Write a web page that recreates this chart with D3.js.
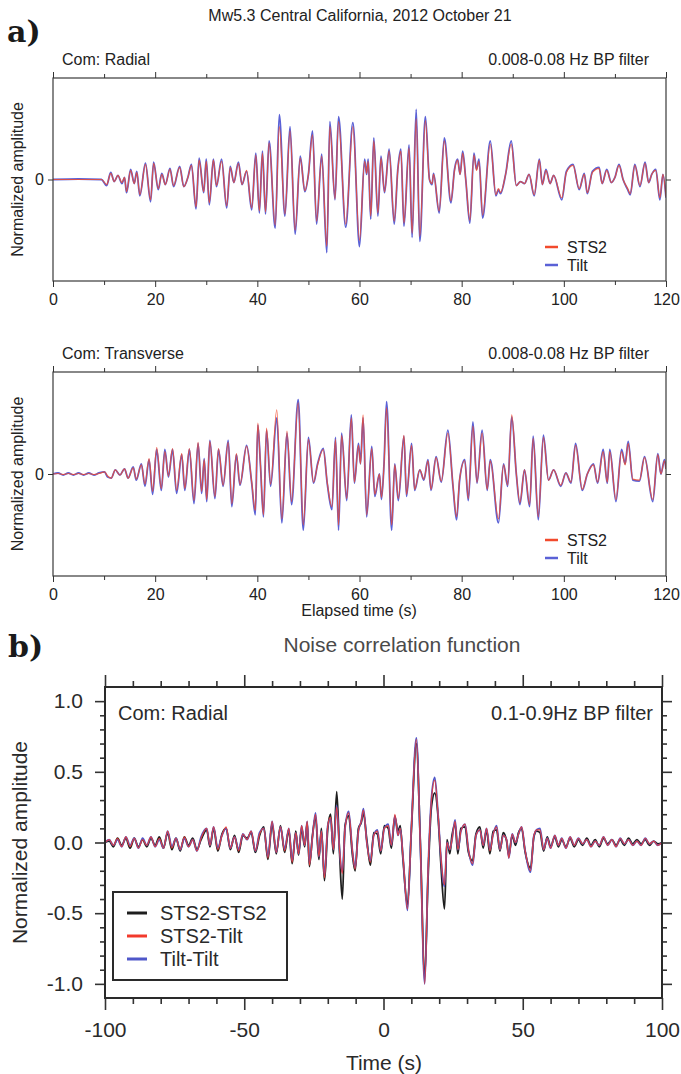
<!DOCTYPE html>
<html><head><meta charset="utf-8">
<script src="https://cdn.jsdelivr.net/npm/d3@7"></script>
<style>body{margin:0;background:#fff}svg{display:block}</style>
</head><body>
<script>
// ---------------- DATA ----------------
const titleA = "Mw5.3 Central California, 2012 October 21";
const filterA = "0.008-0.08 Hz BP filter";
const seisXMajor = [0, 20, 40, 60, 80, 100, 120];
const seisXMinor = [10, 30, 50, 70, 90, 110];
const seisYTicks = [0];
const seisSeries = ["STS2", "Tilt"];

// Radial component (elapsed time s, normalized amplitude)
const radialTime = [
  0, 5, 9.5, 10.5, 11.3, 12, 12.7, 13.5, 14, 14.4,
  15.2, 15.9, 16.4, 17, 18.1, 19.1, 19.7, 20.6, 21.3, 22,
  22.9, 23.6, 24.8, 25.6, 26.4, 27.1, 28, 28.6, 29.5, 30,
  30.6, 31.4, 32, 33, 34, 34.7, 35.4, 36.3, 37, 37.9,
  38.9, 39.7, 40.4, 41, 41.6, 42.3, 43.5, 44.3, 45.4, 46.4,
  47.4, 48.4, 49.3, 50, 50.8, 51.6, 52.6, 53.6, 54.2, 55.2,
  55.9, 57.3, 58.7, 60, 61, 61.4, 61.7, 62.2, 62.8, 63.6,
  64.2, 64.9, 65.8, 66.8, 67.5, 68.1, 68.7, 69.7, 70.3, 71.1,
  71.8, 72.9, 73.7, 74.2, 74.5, 75.6, 76.6, 77.9, 78.6, 79.2,
  79.7, 80.2, 80.8, 81.6, 82.4, 82.9, 83.4, 84.1, 85.6, 86.7,
  87.2, 87.6, 88.6, 89.7, 90.7, 91.5, 92.3, 93.2, 94.2, 95.2,
  95.8, 96.5, 97.3, 98, 99.6, 100.5, 101.8, 103, 104, 104.6,
  105.6, 106.9, 107.5, 108.4, 109.3, 110, 110.8, 111.6, 112.5, 113,
  113.9, 114.9, 115.9, 116.6, 117.2, 118, 118.8, 119.4, 120
];
const radialTilt = [
  0, 0.005, 0, -0.06, 0.07, -0.02, 0.04, -0.04, 0.02, -0.13,
  0.10, -0.04, 0.08, -0.16, 0.16, -0.22, 0.17, -0.10, 0.06, -0.05,
  0.11, -0.07, 0.13, -0.07, 0.02, 0.15, -0.29, 0.21, -0.13, 0.20,
  -0.25, 0.20, -0.07, 0.20, -0.28, 0.13, -0.03, 0.17, -0.05, 0.08,
  -0.30, 0.26, -0.33, 0.28, -0.34, 0.38, -0.48, 0.64, -0.36, 0.52,
  -0.54, 0.23, -0.12, 0.05, 0.48, -0.44, 0.25, -0.72, 0.57, -0.20,
  0.62, -0.47, 0.56, -0.66, 0.20, 0.05, 0.20, -0.39, 0.41, -0.36,
  0.23, -0.13, 0.30, -0.44, 0.10, 0.30, -0.46, 0.34, -0.57, 0.69,
  -0.61, 0.62, 0.00, -0.05, 0.06, -0.33, 0.41, -0.23, 0.10, 0.20,
  0.05, 0.28, 0.00, -0.43, 0.26, 0.10, 0.20, -0.38, 0.38, -0.16,
  -0.10, -0.14, 0.05, 0.38, -0.06, -0.02, -0.04, 0.05, -0.16, 0.20,
  -0.05, 0.10, -0.04, 0.04, -0.20, 0.08, 0.15, -0.10, 0.06, -0.14,
  0.08, 0.12, -0.04, 0.10, -0.03, 0.02, 0.15, 0.00, -0.10, -0.15,
  0.15, -0.07, 0.17, -0.03, 0.05, 0.10, -0.20, 0.05, -0.18
];
const radialSTS2 = [
  0, 0, 0, -0.05, 0.06, -0.02, 0.04, -0.03, 0.02, -0.12,
  0.09, -0.04, 0.07, -0.15, 0.15, -0.20, 0.16, -0.09, 0.05, -0.05,
  0.10, -0.06, 0.12, -0.07, 0.02, 0.14, -0.27, 0.19, -0.12, 0.18,
  -0.23, 0.19, -0.06, 0.18, -0.26, 0.12, -0.03, 0.16, -0.05, 0.09,
  -0.28, 0.24, -0.31, 0.26, -0.32, 0.36, -0.45, 0.52, -0.34, 0.48,
  -0.50, 0.21, -0.11, 0.05, 0.44, -0.41, 0.23, -0.66, 0.52, -0.19,
  0.57, -0.44, 0.52, -0.60, 0.18, 0.06, 0.18, -0.36, 0.38, -0.33,
  0.21, -0.12, 0.28, -0.41, 0.09, 0.28, -0.43, 0.31, -0.53, 0.60,
  -0.56, 0.58, 0.00, -0.04, 0.05, -0.31, 0.38, -0.21, 0.09, 0.19,
  0.05, 0.26, 0.00, -0.40, 0.24, 0.09, 0.18, -0.35, 0.35, -0.15,
  -0.09, -0.13, 0.05, 0.35, -0.06, -0.02, -0.04, 0.05, -0.15, 0.19,
  -0.05, 0.09, -0.04, 0.04, -0.18, 0.07, 0.14, -0.09, 0.05, -0.13,
  0.07, 0.11, -0.04, 0.09, -0.03, 0.02, 0.14, 0.00, -0.09, -0.14,
  0.14, -0.06, 0.16, -0.03, 0.05, 0.09, -0.18, 0.05, -0.17
];

// Transverse component
const transTime = [
  0, 1, 2, 3, 4, 5, 6, 7, 8, 9,
  10.1, 10.7, 11.4, 12.2, 13.1, 14, 14.7, 15.7, 16.3, 17.3,
  18, 18.8, 19.5, 20.3, 21.2, 21.9, 22.6, 23.4, 24.2, 25.2,
  25.8, 26.7, 27.6, 28.4, 29.1, 29.6, 30.1, 30.7, 31.7, 32.4,
  33.3, 34.3, 35, 35.9, 36.6, 37.9, 38.9, 39.6, 40.1, 40.6,
  41.2, 41.8, 42.6, 43.8, 44.8, 45.8, 46.7, 48, 49, 50,
  51, 51.8, 52.9, 53.7, 54.6, 55.3, 55.9, 56.5, 57.5, 58.4,
  59, 59.8, 60.2, 60.7, 61.4, 62.4, 63, 63.9, 64.3, 64.8,
  65.3, 66.3, 66.9, 67.6, 68.7, 69.2, 70.2, 70.8, 71.8, 72.6,
  73.4, 74, 75, 76, 77.3, 78.3, 79, 79.6, 80.6, 81.3,
  82.2, 83, 84, 85, 85.6, 87.2, 88.2, 89, 89.8, 90.7,
  91.4, 92.3, 93.3, 94, 95, 96, 97, 98, 99.4, 100.4,
  101.4, 102.3, 103.6, 104.6, 105.8, 106.6, 107.7, 108.5, 109, 110.2,
  111.3, 112, 112.6, 113.5, 114.8, 115.8, 117.4, 118.4, 119, 119.7, 120
];
const transTilt = [
  0, 0.01, -0.01, 0.01, -0.01, 0.01, -0.01, 0.01, -0.01, 0.01,
  0.02, -0.03, -0.04, 0.04, -0.01, 0.05, -0.04, 0.07, -0.06, 0.10,
  -0.12, 0.14, -0.20, 0.24, -0.16, 0.24, -0.03, 0.24, -0.19, 0.19,
  -0.16, 0.24, -0.29, 0.30, -0.19, 0.15, -0.27, 0.33, -0.24, 0.24,
  -0.12, 0.33, -0.32, 0.19, -0.11, 0.28, -0.09, -0.40, 0.48, 0.10,
  -0.42, 0.43, -0.12, 0.55, -0.48, 0.40, -0.30, 0.73, -0.55, 0.36,
  -0.09, 0.10, 0.25, -0.10, -0.35, 0.36, -0.55, 0.40, -0.26, 0.58,
  -0.09, 0.30, 0.10, 0.55, -0.42, 0.27, -0.22, 0.00, -0.25, 0.10,
  0.71, -0.55, 0.10, -0.26, 0.37, -0.22, 0.30, -0.16, 0.04, -0.06,
  0.14, -0.16, 0.17, -0.08, 0.43, -0.12, -0.45, -0.06, 0.14, -0.26,
  0.51, -0.09, 0.43, -0.16, 0.14, -0.48, 0.10, -0.12, 0.56, 0.00,
  -0.30, 0.04, -0.32, 0.37, -0.45, 0.38, -0.06, 0.04, -0.12, 0.01,
  -0.09, 0.30, -0.16, 0.00, 0.10, -0.09, 0.24, -0.09, 0.24, -0.27,
  0.24, 0.10, 0.32, -0.06, -0.07, 0.17, -0.27, 0.20, 0.00, 0.14, 0.05
];
const transSTS2 = [
  0, 0.005, -0.005, 0.005, -0.005, 0.005, -0.005, 0.005, -0.005, 0.005,
  0.02, -0.02, -0.04, 0.04, -0.01, 0.05, -0.04, 0.06, -0.05, 0.09,
  -0.10, 0.15, -0.17, 0.26, -0.14, 0.22, -0.02, 0.25, -0.16, 0.20,
  -0.14, 0.25, -0.26, 0.31, -0.17, 0.14, -0.25, 0.32, -0.22, 0.25,
  -0.11, 0.31, -0.29, 0.20, -0.10, 0.27, -0.08, -0.36, 0.50, 0.10,
  -0.40, 0.45, -0.10, 0.63, -0.44, 0.42, -0.27, 0.70, -0.50, 0.34,
  -0.08, 0.09, 0.24, -0.09, -0.32, 0.34, -0.50, 0.38, -0.24, 0.55,
  -0.08, 0.28, 0.10, 0.58, -0.40, 0.25, -0.20, 0.00, -0.23, 0.09,
  0.65, -0.50, 0.09, -0.24, 0.38, -0.20, 0.28, -0.15, 0.04, -0.05,
  0.13, -0.15, 0.16, -0.07, 0.40, -0.11, -0.42, -0.05, 0.13, -0.24,
  0.47, -0.08, 0.40, -0.15, 0.13, -0.44, 0.09, -0.11, 0.58, 0.00,
  -0.28, 0.04, -0.30, 0.35, -0.42, 0.36, -0.06, 0.04, -0.11, 0.01,
  -0.08, 0.28, -0.15, 0.00, 0.09, -0.08, 0.22, -0.08, 0.22, -0.25,
  0.22, 0.09, 0.30, -0.05, -0.06, 0.16, -0.25, 0.19, 0.00, 0.13, 0.05
];

// Noise correlation function (lag time s)
const ncfTitle = "Noise correlation function";
const ncfFilter = "0.1-0.9Hz BP filter";
const ncfSeries = ["STS2-STS2", "STS2-Tilt", "Tilt-Tilt"];
const ncfXMajor = [-100, -50, 0, 50, 100];
const ncfXMinor = [-90, -80, -70, -60, -40, -30, -20, -10, 10, 20, 30, 40, 60, 70, 80, 90];
const ncfYMajor = [-1, -0.5, 0, 0.5, 1];
const ncfYMinor = [-0.9, -0.8, -0.7, -0.6, -0.4, -0.3, -0.2, -0.1, 0.1, 0.2, 0.3, 0.4, 0.6, 0.7, 0.8, 0.9];
const ncfTime = [
  -100, -98.5, -97, -95.5, -94, -92.5, -91, -89.5, -88, -86.5,
  -85, -83.5, -82, -80.5, -79, -77.5, -76, -74.5, -73, -71.5,
  -70, -68.5, -67, -65.5, -63.5, -62.3, -61, -59.5, -58, -56.5,
  -55, -53.5, -52, -50.5, -49, -47.5, -46, -44.5, -43, -41.5,
  -40, -38.5, -37, -35.5, -34, -32.8, -31.5, -30.5, -29.4, -28.3,
  -27.4, -26.6, -25.5, -24.4, -23.2, -22.3, -21.2, -20, -19, -18,
  -16.8, -15.8, -14.8, -13.8, -12.5, -11.2, -10.2, -9, -8, -7.2,
  -6, -4.7, -3.5, -2.2, -1, 0.3, 1.7, 2.8, 4.1, 5.2,
  6, 7, 8.6, 10, 11.8, 13.2, 14.8, 16, 17.2, 18.4,
  19.6, 20.6, 21.9, 22.8, 23.8, 24.6, 25.7, 26.7, 27.8, 29.3,
  30.5, 32, 33.2, 34.6, 35.8, 37, 38.2, 39.4, 40.6, 41.8,
  43, 44.2, 45, 46.2, 47.4, 48.5, 49.6, 50.8, 52.8, 54,
  55, 56.2, 57.5, 58.8, 60, 61.5, 62.8, 64, 65.5, 67,
  68.5, 70, 71.5, 73, 74.5, 76, 77.5, 79, 80.5, 82,
  83.5, 85, 86.5, 88, 89.5, 91, 92.5, 94, 95.5, 97,
  98.5, 100
];
const ncfStsSts = [
  0, 0.01, -0.03, 0.03, -0.02, 0.03, -0.04, 0.03, -0.03, 0.02,
  -0.03, 0.03, -0.02, 0.04, -0.04, 0.07, -0.05, 0.03, -0.06, 0.04,
  -0.02, 0.03, -0.05, 0.02, 0.09, -0.03, 0.10, -0.06, 0.06, 0.10,
  -0.05, 0.05, -0.07, 0.05, 0.03, 0.07, -0.07, 0.05, 0.11, -0.12,
  0.13, -0.08, 0.12, -0.07, 0.09, -0.15, 0.08, -0.09, 0.10, -0.03,
  0.14, -0.17, 0.05, 0.18, -0.12, 0.10, -0.27, 0.10, 0.20, -0.08,
  0.36, -0.06, -0.40, 0.12, 0.19, -0.08, -0.20, 0.10, 0.14, 0.21,
  0.02, -0.16, 0.07, 0.06, -0.08, 0.12, 0.10, -0.04, 0.18, 0.08,
  0.12, -0.12, -0.44, 0.08, 0.70, 0.02, -0.95, -0.25, 0.25, 0.35,
  0.18, -0.15, -0.47, 0.02, -0.08, 0.05, 0.13, -0.08, 0.10, 0.11,
  -0.07, -0.13, 0.06, 0.11, -0.04, 0.09, -0.08, 0.08, 0.09, -0.06,
  0.07, 0.01, -0.09, 0.05, -0.02, 0.07, 0.10, -0.06, -0.18, 0.04,
  0.08, 0.07, -0.06, 0.04, -0.03, 0.04, -0.03, 0.02, -0.03, 0.03,
  -0.03, 0.02, -0.02, 0.03, -0.02, 0.02, -0.03, 0.03, -0.01, 0.02,
  -0.02, 0.02, -0.02, 0.03, -0.01, 0.02, -0.01, 0.02, -0.02, 0.01,
  -0.01, 0
];
const ncfStsTilt = [
  0, 0.02, -0.02, 0.03, -0.03, 0.04, -0.03, 0.03, -0.04, 0.02,
  -0.02, 0.04, -0.03, 0.03, -0.04, 0.08, -0.04, 0.03, -0.05, 0.04,
  -0.03, 0.02, -0.06, 0.03, 0.10, -0.02, 0.11, -0.05, 0.05, 0.11,
  -0.04, 0.04, -0.06, 0.06, 0.02, 0.08, -0.06, 0.06, 0.10, -0.11,
  0.15, -0.07, 0.11, -0.06, 0.10, -0.14, 0.07, -0.08, 0.12, -0.02,
  0.15, -0.16, 0.04, 0.20, -0.10, 0.08, -0.25, 0.12, 0.18, -0.05,
  0.25, -0.05, -0.22, 0.10, 0.21, -0.05, -0.19, 0.08, 0.15, 0.23,
  0.00, -0.14, 0.05, 0.08, -0.06, 0.10, 0.12, -0.02, 0.20, 0.05,
  0.10, -0.10, -0.47, 0.10, 0.73, 0.00, -1.00, -0.20, 0.30, 0.44,
  0.20, -0.10, -0.30, 0.00, -0.05, 0.02, 0.15, -0.05, 0.08, 0.13,
  -0.05, -0.15, 0.05, 0.09, -0.02, 0.10, -0.06, 0.06, 0.11, -0.05,
  0.05, 0.02, -0.11, 0.06, 0.00, 0.06, 0.11, -0.05, -0.20, 0.05,
  0.09, 0.09, -0.05, 0.03, -0.04, 0.05, -0.02, 0.03, -0.04, 0.04,
  -0.02, 0.03, -0.01, 0.02, -0.03, 0.01, -0.02, 0.04, -0.02, 0.02,
  -0.03, 0.03, -0.01, 0.02, -0.02, 0.01, -0.02, 0.03, -0.01, 0.01,
  -0.02, 0
];
const ncfTiltTilt = [
  0, 0.02, -0.02, 0.02, -0.03, 0.04, -0.02, 0.03, -0.04, 0.03,
  -0.02, 0.04, -0.03, 0.02, -0.04, 0.08, -0.03, 0.03, -0.05, 0.03,
  -0.03, 0.02, -0.06, 0.04, 0.10, -0.02, 0.11, -0.04, 0.05, 0.10,
  -0.04, 0.04, -0.05, 0.06, 0.02, 0.08, -0.06, 0.07, 0.10, -0.10,
  0.15, -0.07, 0.11, -0.05, 0.10, -0.13, 0.07, -0.08, 0.12, -0.02,
  0.15, -0.15, 0.04, 0.21, -0.10, 0.08, -0.24, 0.12, 0.17, -0.05,
  0.26, -0.05, -0.21, 0.10, 0.22, -0.05, -0.18, 0.08, 0.15, 0.24,
  0.00, -0.13, 0.05, 0.09, -0.06, 0.10, 0.13, -0.02, 0.19, 0.05,
  0.10, -0.10, -0.48, 0.10, 0.74, 0.00, -1.00, -0.20, 0.31, 0.46,
  0.20, -0.10, -0.31, 0.00, -0.05, 0.02, 0.16, -0.05, 0.08, 0.13,
  -0.05, -0.16, 0.05, 0.09, -0.02, 0.10, -0.05, 0.06, 0.12, -0.05,
  0.05, 0.02, -0.11, 0.06, 0.00, 0.06, 0.11, -0.05, -0.21, 0.05,
  0.09, 0.10, -0.05, 0.03, -0.04, 0.05, -0.02, 0.03, -0.04, 0.04,
  -0.02, 0.03, -0.01, 0.02, -0.03, 0.01, -0.02, 0.04, -0.02, 0.02,
  -0.03, 0.03, -0.01, 0.02, -0.02, 0.01, -0.02, 0.03, -0.01, 0.01,
  -0.02, 0
];

// ---------------- DRAW ----------------
const FONT = '"Liberation Sans", Arial, Helvetica, sans-serif';
const RED_A = "#f24a2c", BLUE_A = "#5a61d6";
const RED_B = "#f23a2c", BLUE_B = "#4f57c9", BLACK_B = "#1e1e1e";

const svg = d3.select("body").append("svg").attr("width", 681).attr("height", 1074);
svg.append("rect").attr("width", 681).attr("height", 1074).attr("fill", "#fff");

function styleAxis(g, fs, col, sw) {
  g.select(".domain").remove();
  g.selectAll("line").attr("stroke", "#333").attr("stroke-width", sw || 1);
  g.selectAll("text").attr("font-family", FONT).attr("font-size", fs).attr("fill", col || "#222");
}
function label(txt, x, y, fs, anchor, col, extra) {
  const t = svg.append("text").attr("x", x).attr("y", y).text(txt)
    .attr("font-family", FONT).attr("font-size", fs).attr("fill", col || "#222")
    .attr("text-anchor", anchor || "start");
  if (extra) extra(t);
  return t;
}

// panel letters and title
svg.append("text").attr("x", 7).attr("y", 42).text("a)")
  .attr("font-family", '"DejaVu Serif", serif').attr("font-weight", "bold").attr("font-size", 30).attr("fill", "#1a1a1a");
svg.append("text").attr("x", 8).attr("y", 657).text("b)")
  .attr("font-family", '"DejaVu Serif", serif').attr("font-weight", "bold").attr("font-size", 30).attr("fill", "#1a1a1a");
label(titleA, 360, 21, 16, "middle", "#222");

function seismo(o) {
  const L = 53, R = 666;
  const x = d3.scaleLinear().domain([0, 120]).range([L, R]);
  const y = d3.scaleLinear().domain([-1, 1]).range([o.bottom, o.top]);
  const g = svg.append("g");
  const cid = "clip-" + o.key;
  svg.append("clipPath").attr("id", cid).append("rect")
    .attr("x", L).attr("y", o.top).attr("width", R - L).attr("height", o.bottom - o.top);
  const mk = vals => d3.line().x((d, i) => x(o.time[i])).y(d => y(d)).curve(d3.curveMonotoneX)(vals);
  const pg = g.append("g").attr("clip-path", `url(#${cid})`);
  pg.append("path").attr("d", mk(o.tilt)).attr("fill", "none").attr("stroke", BLUE_A).attr("stroke-width", 1.8).attr("stroke-linejoin", "round");
  pg.append("path").attr("d", mk(o.sts2)).attr("fill", "none").attr("stroke", RED_A).attr("stroke-width", 1.2).attr("stroke-opacity", 0.8).attr("stroke-linejoin", "round");

  g.append("rect").attr("x", L).attr("y", o.top).attr("width", R - L).attr("height", o.bottom - o.top)
    .attr("fill", "none").attr("stroke", "#3a3a3a").attr("stroke-width", 1.2);

  g.append("g").attr("transform", `translate(0,${o.bottom})`)
    .call(d3.axisBottom(x).tickValues(seisXMajor).tickSize(6).tickPadding(7).tickFormat(d3.format("d")))
    .call(a => styleAxis(a, 16));
  g.append("g").attr("transform", `translate(0,${o.bottom})`)
    .call(d3.axisBottom(x).tickValues(seisXMinor).tickSize(4).tickFormat(""))
    .call(a => styleAxis(a, 16));
  g.append("g").attr("transform", `translate(0,${o.top})`)
    .call(d3.axisTop(x).tickValues(seisXMajor).tickSize(6).tickFormat(""))
    .call(a => styleAxis(a, 16));
  g.append("g").attr("transform", `translate(0,${o.top})`)
    .call(d3.axisTop(x).tickValues(seisXMinor).tickSize(4).tickFormat(""))
    .call(a => styleAxis(a, 16));
  g.append("g").attr("transform", `translate(${L},0)`)
    .call(d3.axisLeft(y).tickValues(seisYTicks).tickSize(5).tickPadding(4).tickFormat(d3.format("d")))
    .call(a => styleAxis(a, 16));
  g.append("g").attr("transform", `translate(${R},0)`)
    .call(d3.axisRight(y).tickValues(seisYTicks).tickSize(5).tickFormat(""))
    .call(a => styleAxis(a, 16));

  label("Normalized amplitude", 0, 0, 16, "middle", "#222",
    t => t.attr("x", null).attr("y", null).attr("transform", `translate(23,${(o.top + o.bottom) / 2}) rotate(-90)`));
  label(o.comp, 62, o.top - 13, 16, "start", "#222");
  label(filterA, 649, o.top - 13, 16, "end", "#222");

  // legend
  [[seisSeries[0], RED_A], [seisSeries[1], BLUE_A]].forEach((s, i) => {
    const yy = o.legY + i * 18;
    g.append("line").attr("x1", 545).attr("x2", 558).attr("y1", yy).attr("y2", yy)
      .attr("stroke", s[1]).attr("stroke-width", 2.5);
    label(s[0], 567, yy + 6, 16, "start", "#222");
  });
}

seismo({ key: "rad", top: 78, bottom: 281, time: radialTime, tilt: radialTilt, sts2: radialSTS2, comp: "Com: Radial", legY: 247 });
seismo({ key: "tra", top: 372, bottom: 576, time: transTime, tilt: transTilt, sts2: transSTS2, comp: "Com: Transverse", legY: 540 });
label("Elapsed time (s)", 359, 616, 16, "middle", "#222");

// ---------------- Panel b ----------------
(function () {
  const L = 105, R = 662, T = 687, B = 998;
  const x = d3.scaleLinear().domain([-100, 100]).range([L, R]);
  const y = d3.scaleLinear().domain([-1.1, 1.1]).range([B, T]);
  const g = svg.append("g");
  svg.append("clipPath").attr("id", "clip-ncf").append("rect")
    .attr("x", L).attr("y", T).attr("width", R - L).attr("height", B - T);
  const mk = vals => d3.line().x((d, i) => x(ncfTime[i])).y(d => y(d)).curve(d3.curveMonotoneX)(vals);
  const pg = g.append("g").attr("clip-path", "url(#clip-ncf)");
  pg.append("path").attr("d", mk(ncfStsSts)).attr("fill", "none").attr("stroke", BLACK_B).attr("stroke-width", 1.8);
  pg.append("path").attr("d", mk(ncfTiltTilt)).attr("fill", "none").attr("stroke", BLUE_B).attr("stroke-width", 1.8);
  pg.append("path").attr("d", mk(ncfStsTilt)).attr("fill", "none").attr("stroke", RED_B).attr("stroke-width", 1.2).attr("stroke-opacity", 0.85);

  const fmt = v => d3.format(".1f")(v).replace("\u2212", "-");
  const fmtx = v => String(v);
  const FS = 21;
  g.append("g").attr("transform", `translate(0,${B})`)
    .call(d3.axisBottom(x).tickValues(ncfXMajor).tickSize(12).tickPadding(12).tickFormat(fmtx))
    .call(a => styleAxis(a, FS, "#2a2a2a", 1.6));
  g.append("g").attr("transform", `translate(0,${B})`)
    .call(d3.axisBottom(x).tickValues(ncfXMinor).tickSize(6).tickFormat(""))
    .call(a => styleAxis(a, FS, "#2a2a2a", 1.6));
  g.append("g").attr("transform", `translate(0,${T})`)
    .call(d3.axisTop(x).tickValues(ncfXMajor).tickSize(12).tickFormat(""))
    .call(a => styleAxis(a, FS, "#2a2a2a", 1.6));
  g.append("g").attr("transform", `translate(0,${T})`)
    .call(d3.axisTop(x).tickValues(ncfXMinor).tickSize(6).tickFormat(""))
    .call(a => styleAxis(a, FS, "#2a2a2a", 1.6));
  g.append("g").attr("transform", `translate(${L},0)`)
    .call(d3.axisLeft(y).tickValues(ncfYMajor).tickSize(10).tickPadding(12).tickFormat(fmt))
    .call(a => styleAxis(a, FS, "#2a2a2a", 1.6));
  g.append("g").attr("transform", `translate(${L},0)`)
    .call(d3.axisLeft(y).tickValues(ncfYMinor).tickSize(5).tickFormat(""))
    .call(a => styleAxis(a, FS, "#2a2a2a", 1.6));
  g.append("g").attr("transform", `translate(${R},0)`)
    .call(d3.axisRight(y).tickValues(ncfYMajor).tickSize(10).tickFormat(""))
    .call(a => styleAxis(a, FS, "#2a2a2a", 1.6));
  g.append("g").attr("transform", `translate(${R},0)`)
    .call(d3.axisRight(y).tickValues(ncfYMinor).tickSize(5).tickFormat(""))
    .call(a => styleAxis(a, FS, "#2a2a2a", 1.6));

  g.append("rect").attr("x", L).attr("y", T).attr("width", R - L).attr("height", B - T)
    .attr("fill", "none").attr("stroke", "#2a2a2a").attr("stroke-width", 2);

  label(ncfTitle, 402, 652, 21, "middle", "#4a4a4a");
  label("Com: Radial", 118, 720, 20, "start", "#2a2a2a");
  label(ncfFilter, 653, 720, 20, "end", "#2a2a2a");
  label("Time (s)", 384, 1070, 21, "middle", "#2a2a2a");
  label("Normalized amplitude", 0, 0, 21, "middle", "#2a2a2a",
    t => t.attr("x", null).attr("y", null).attr("transform", `translate(27,${(T + B) / 2}) rotate(-90)`));

  // legend box
  g.append("rect").attr("x", 113).attr("y", 892).attr("width", 174).attr("height", 88)
    .attr("fill", "#fff").attr("stroke", "#2a2a2a").attr("stroke-width", 2);
  [[ncfSeries[0], BLACK_B], [ncfSeries[1], RED_B], [ncfSeries[2], BLUE_B]].forEach((s, i) => {
    const yy = 913 + i * 23;
    g.append("line").attr("x1", 127).attr("x2", 147).attr("y1", yy).attr("y2", yy)
      .attr("stroke", s[1]).attr("stroke-width", 3);
    label(s[0], 160, yy + 7, 20, "start", "#2a2a2a");
  });
})();
</script>
</body></html>
